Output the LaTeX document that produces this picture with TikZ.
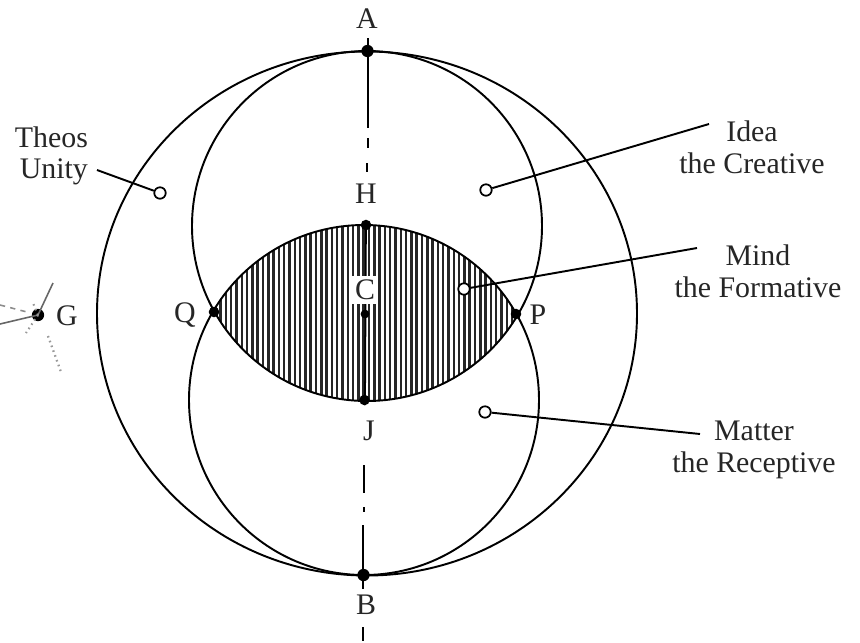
\documentclass[tikz,border=0pt]{standalone}
\usepackage{fontspec}
\setmainfont{Liberation Serif}
\begin{document}
\begin{tikzpicture}[x=0.02cm,y=-0.02cm,
  stroke/.style={line width=1.1pt,black},
  hatchline/.style={line width=1.45pt,black!85},
  dot/.style={circle,fill=black,inner sep=0pt,minimum size=#1},
  dot/.default=7pt,
  opencirc/.style={circle,draw=black,line width=1pt,fill=white,inner sep=0pt,minimum size=6.5pt},
  leader/.style={line width=1.1pt,black},
  lbl/.style={font=\fontsize{17}{18}\selectfont,text=black!85,inner sep=1pt},
  axisline/.style={line width=1pt,black},
  ray/.style={line width=0.9pt,black!60}]
\useasboundingbox (0,0) rectangle (860,643);
% hatched lens
\begin{scope}
  \clip (367,226) circle (175);
  \clip (364,400) circle (175);
  \foreach \x in {210,215.3,...,525} \draw[hatchline] (\x,200) -- (\x,420);
\end{scope}
% circles and outer ellipse
\draw[stroke] (367,313.5) ellipse (270 and 262);
\draw[stroke] (367,226) circle (175);
\draw[stroke] (364,400) circle (175);
% axis
\draw[axisline] (368,38) -- (368,128);
\draw[axisline] (368,138) -- (368,148);
\draw[axisline] (367,163) -- (367,172);
\draw[axisline] (366,220) -- (365,405);
\draw[axisline] (364,465) -- (364,493);
\draw[axisline] (364,507) -- (364,512);
\draw[axisline] (363,525) -- (363,575);
\draw[axisline] (363,580) -- (363,589);
\draw[axisline] (363,627) -- (363,641);
% points
\node[dot] (A) at (367.5,51) {};
\node[dot] (B) at (363.5,575) {};
\node[dot=6pt] (H) at (366,225) {};
\node[dot=6pt] (J) at (364.5,400) {};
\node[dot=5pt] (C) at (365,314) {};
\node[dot=6pt] (Q) at (214,312) {};
\node[dot=6pt] (P) at (516,314) {};
\node[dot] (G) at (38,315) {};
% labels of points
\node[lbl] (lA) at (367,19) {A};
\node[lbl] (lH) at (366,194) {H};
\node[lbl,fill=white,inner sep=2pt] (lC) at (365,290) {C};
\node[lbl] (lJ) at (369,431) {J};
\node[lbl] (lB) at (366,605) {B};
\node[lbl] (lQ) at (185,315) {Q};
\node[lbl] (lP) at (538,315) {P};
\node[lbl] (lG) at (67,316) {G};
% rays around G
\coordinate (g1) at (0,324);
\coordinate (g2) at (53,283);
\coordinate (g3) at (0,305);
\coordinate (g4) at (27,312);
\coordinate (g5) at (48,336);
\coordinate (g6) at (61,372);
\coordinate (g7) at (26,333);
\coordinate (g8) at (33,303);
\draw[ray] (g1) -- (G.center);
\draw[ray] (G.center) -- (g2);
\draw[ray,dashed,black!45] (g3) -- (g4);
\draw[ray,dotted,line width=1.3pt,black!40] (g5) -- (g6);
\draw[ray,dotted,line width=1.2pt,black!40] (G.center) -- (g7);
\draw[ray,dotted,line width=1.2pt,black!40] (G.center) -- (g8);
% open circles and leaders
\node[opencirc] (th) at (160,193) {};
\node[opencirc] (id) at (486,190) {};
\node[opencirc] (mi) at (464,289) {};
\node[opencirc] (ma) at (485,412) {};
\coordinate (thE) at (97,170);
\coordinate (idE) at (709,124);
\coordinate (miE) at (697,248);
\coordinate (maE) at (700,434);
\draw[leader] (th) -- (thE);
\draw[leader] (id) -- (idE);
\draw[leader] (mi) -- (miE);
\draw[leader] (ma) -- (maE);
% text labels
\node[lbl,align=right,anchor=east] (tTheos) at (90,156) {Theos\\Unity};
\node[lbl,align=center] (tIdea) at (752,147) {Idea\\the Creative};
\node[lbl,align=center] (tMind) at (758,271) {Mind\\the Formative};
\node[lbl,align=center] (tMatter) at (754,450) {Matter\\the Receptive};
\end{tikzpicture}
\end{document}
